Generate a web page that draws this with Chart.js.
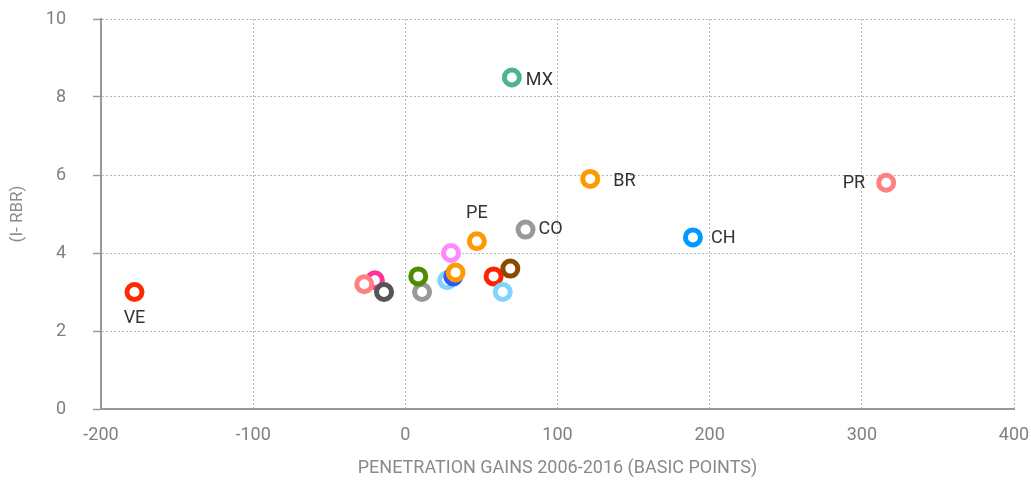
<!DOCTYPE html>
<html>
<head>
<meta charset="utf-8">
<script src="https://cdn.jsdelivr.net/npm/chart.js@4/dist/chart.umd.min.js"></script>
<style>
  html, body { margin: 0; padding: 0; background: #fff; }
  #wrap { width: 1031px; height: 481px; position: relative; }
</style>
</head>
<body>
<div id="wrap"><canvas id="c"></canvas></div>
<script>
// Country codes (blank = unlabelled market)
const codes = ['VE', '', '', '', '', '', '', '', '', '', 'PE', '', '', '', 'CO', 'MX', 'BR', 'CH', 'PR'];
// Penetration gains 2006-2016, basic points
const gains = [-178, -20, -14, -27, 11, 8.5, 27.5, 31.5, 33, 30, 47, 58, 64, 69, 79, 70, 121.5, 189, 316];
// (I- RBR)
const rbr = [3.0, 3.3, 3.0, 3.2, 3.0, 3.4, 3.3, 3.4, 3.5, 4.0, 4.3, 3.4, 3.0, 3.6, 4.6, 8.5, 5.9, 4.4, 5.8];
const xTicks = [-200, -100, 0, 100, 200, 300, 400];
const yTicks = [0, 2, 4, 6, 8, 10];

const ringColors = ['#ff2a00', '#ff3399', '#555555', '#ff8080', '#999999', '#4d8c00', '#80d4ff', '#3355ff',
  '#ff9900', '#ff88ff', '#ff9900', '#ff2200', '#80d4ff', '#8b4a00', '#999999', '#4db396', '#ff9900', '#0099ff', '#ff8080'];

// where each country code sits relative to its marker
const labelSpots = {
  VE: { dx: 0, dy: 26, align: 'center' },
  PE: { dx: 0, dy: -28, align: 'center' },
  CO: { dx: 13, dy: 0, align: 'left' },
  MX: { dx: 14, dy: 3, align: 'left' },
  BR: { dx: 23, dy: 3, align: 'left' },
  CH: { dx: 18, dy: 1, align: 'left' },
  PR: { dx: -21, dy: 1, align: 'right' }
};

const pointLabels = {
  id: 'pointLabels',
  afterDatasetsDraw(chart) {
    const { ctx, scales: { x, y } } = chart;
    ctx.save();
    ctx.font = '18px Roboto';
    ctx.fillStyle = '#333333';
    ctx.textBaseline = 'middle';
    codes.forEach((code, i) => {
      if (!code) return;
      const spot = labelSpots[code];
      ctx.textAlign = spot.align;
      ctx.fillText(code, x.getPixelForValue(gains[i]) + spot.dx, y.getPixelForValue(rbr[i]) + spot.dy);
    });
    ctx.restore();
  }
};

function noEdgePadding(scale) {
  scale.paddingLeft = 0;
  scale.paddingRight = 0;
  scale.paddingTop = 0;
  scale.paddingBottom = 0;
}

new Chart(document.getElementById('c'), {
  type: 'scatter',
  data: {
    datasets: [{
      data: gains.map((g, i) => ({ x: g, y: rbr[i] })),
      pointRadius: 7.5,
      pointHoverRadius: 7.5,
      pointBorderWidth: 5,
      pointBackgroundColor: '#ffffff',
      pointBorderColor: ringColors
    }]
  },
  options: {
    responsive: true,
    maintainAspectRatio: false,
    animation: false,
    layout: { padding: { left: 0, right: 17, top: 19, bottom: 0 } },
    plugins: { legend: { display: false }, tooltip: { enabled: false } },
    scales: {
      x: {
        type: 'linear',
        min: -200, max: 400,
        afterBuildTicks(scale) { scale.ticks = xTicks.map(v => ({ value: v })); },
        afterFit(scale) { scale.height = 72; noEdgePadding(scale); },
        ticks: { color: '#808080', font: { family: 'Roboto', size: 18 }, padding: 16 },
        grid: { color: '#b8b8b8', lineWidth: 1, drawTicks: false },
        border: { color: '#999999', width: 2, dash: [2, 2] },
        title: {
          display: true,
          text: 'PENETRATION GAINS 2006-2016 (BASIC POINTS)',
          color: '#8a8a8a',
          font: { family: 'Roboto', size: 18 },
          padding: { top: 0, bottom: 2 }
        }
      },
      y: {
        type: 'linear',
        min: 0, max: 10,
        afterBuildTicks(scale) { scale.ticks = yTicks.map(v => ({ value: v })); },
        afterFit(scale) { scale.width = 101; noEdgePadding(scale); },
        ticks: { color: '#808080', font: { family: 'Roboto', size: 18 }, padding: 27 },
        grid: { color: '#b8b8b8', lineWidth: 1, tickLength: 8, tickColor: '#999999', tickWidth: 1.5, tickBorderDash: [] },
        border: { color: '#999999', width: 2, dash: [2, 2] },
        title: {
          display: true,
          text: '(I- RBR)',
          color: '#8a8a8a',
          font: { family: 'Roboto', size: 17 },
          padding: { top: 8, bottom: 0 }
        }
      }
    }
  },
  plugins: [pointLabels]
});
</script>
</body>
</html>
